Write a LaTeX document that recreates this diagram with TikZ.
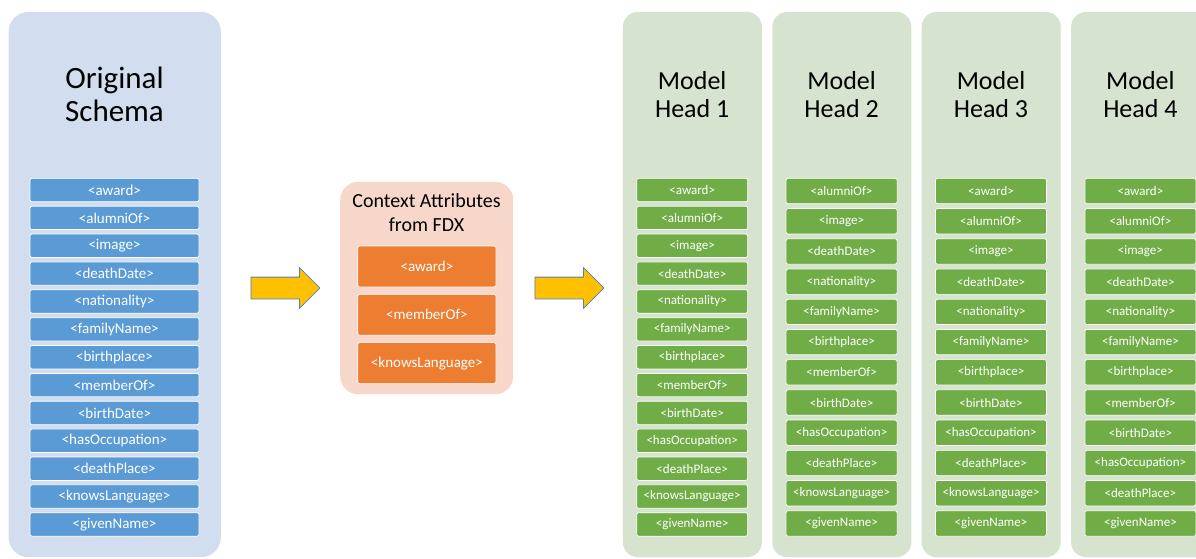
\documentclass[tikz,border=0pt]{standalone}
\usepackage{fontspec}
\setmainfont{Carlito}
\usetikzlibrary{shapes.arrows}

\definecolor{schemapanel}{RGB}{210,222,239}
\definecolor{schemabox}{HTML}{5B9BD5}
\definecolor{ctxpanel}{RGB}{248,215,203}
\definecolor{ctxbox}{HTML}{ED7D31}
\definecolor{headpanel}{RGB}{214,227,207}
\definecolor{headbox}{HTML}{70AD47}
\definecolor{arrowfill}{HTML}{FFC000}
\definecolor{arrowline}{RGB}{90,125,180}

\tikzset{
  panel/.style={rectangle, rounded corners=#1, inner sep=0pt, anchor=north west},
  attr/.style={rectangle, rounded corners=2pt, draw=white, line width=0.7pt,
    inner sep=0pt, text=white},
  schemaattr/.style={attr, fill=schemabox, minimum width=169pt, minimum height=23.4pt,
    font=\fontsize{15}{18}\selectfont},
  ctxattr/.style={attr, fill=ctxbox, minimum width=138.3pt, minimum height=41pt,
    font=\fontsize{15}{18}\selectfont},
  headattr/.style={attr, fill=headbox, minimum width=111pt,
    font=\fontsize{13}{15}\selectfont},
  bigtitle/.style={align=center, inner sep=0pt},
  blockarrow/.style={single arrow, draw=arrowline, fill=arrowfill, line width=0.8pt,
    minimum height=69pt, inner xsep=0pt, inner ysep=10.5pt,
    single arrow head extend=9.5pt, single arrow tip angle=90, anchor=tail},
}

\begin{document}
\begin{tikzpicture}[x=1pt, y=-1pt]
\useasboundingbox (0,0) rectangle (1196,558);
\clip (0,0) rectangle (1196,558);

% original schema column
\node[panel=20pt, fill=schemapanel, minimum width=212.4pt, minimum height=545.3pt]
  (orig) at (8.3,11.7) {};
\node[bigtitle, font=\fontsize{31}{33}\selectfont] (origtitle) at (114.5,94.5) {Original\\Schema};
\foreach \t [count=\i] in {award,alumniOf,image,deathDate,nationality,familyName,
    birthplace,memberOf,birthDate,hasOccupation,deathPlace,knowsLanguage,givenName}
  \node[schemaattr] (o\i) at (114.5,{190+27.87*(\i-1)}) {<\t>};

% context attributes
\node[panel=18pt, fill=ctxpanel, minimum width=173pt, minimum height=212.3pt]
  (ctx) at (340,181.7) {};
\node[bigtitle, font=\fontsize{20}{23.7}\selectfont] (ctxtitle) at (426.5,212.5) {Context Attributes\\from FDX};
\foreach \t [count=\i] in {award,memberOf,knowsLanguage}
  \node[ctxattr] (c\i) at (426.9,{266.5+48.3*(\i-1)}) {<\t>};

% arrows between the stages
\node[blockarrow] (arrowA) at (250.5,288) {};
\node[blockarrow] (arrowB) at (534.5,288) {};

% model heads
\foreach \k in {1,2,3,4} {
  \node[panel=15pt, fill=headpanel, minimum width=139pt, minimum height=545.3pt]
    (head\k) at ({622.7+149.4*(\k-1)},11.7) {};
  \node[bigtitle, font=\fontsize{26}{28}\selectfont] (headtitle\k)
    at ({692.2+149.4*(\k-1)},95) {Model\\Head \k};
}
\foreach \t [count=\i] in {award,alumniOf,image,deathDate,nationality,familyName,
    birthplace,memberOf,birthDate,hasOccupation,deathPlace,knowsLanguage,givenName}
  \node[headattr, minimum height=23.4pt] (ha\i) at (692.2,{190+27.87*(\i-1)}) {<\t>};
\foreach \t [count=\i] in {alumniOf,image,deathDate,nationality,familyName,
    birthplace,memberOf,birthDate,hasOccupation,deathPlace,knowsLanguage,givenName}
  \node[headattr, minimum height=25.4pt] (hb\i) at (841.6,{191+30.22*(\i-1)}) {<\t>};
\foreach \t [count=\i] in {award,alumniOf,image,deathDate,nationality,familyName,
    birthplace,birthDate,hasOccupation,deathPlace,knowsLanguage,givenName}
  \node[headattr, minimum height=25.4pt] (hc\i) at (991,{191+30.22*(\i-1)}) {<\t>};
\foreach \t [count=\i] in {award,alumniOf,image,deathDate,nationality,familyName,
    birthplace,memberOf,birthDate,hasOccupation,deathPlace,givenName}
  \node[headattr, minimum height=25.4pt] (hd\i) at (1140.4,{191+30.22*(\i-1)}) {<\t>};
\end{tikzpicture}
\end{document}
